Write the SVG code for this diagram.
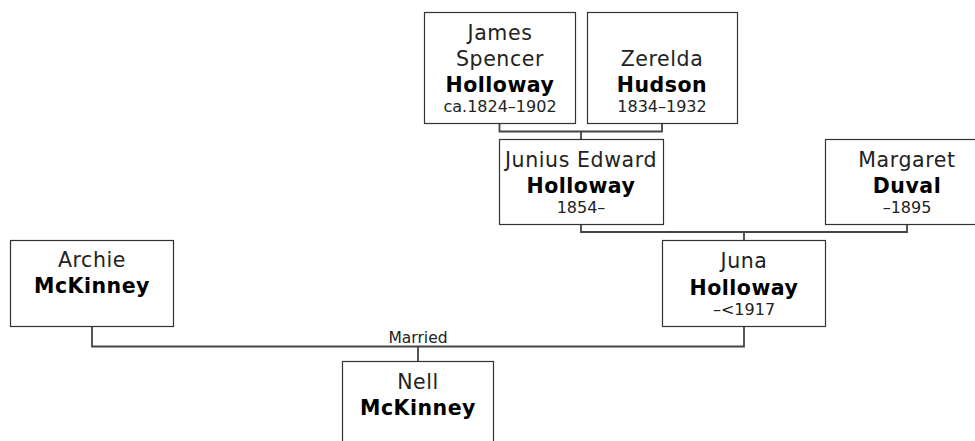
<svg xmlns="http://www.w3.org/2000/svg" width="975" height="441" viewBox="0 0 975 441">
<style>
.box{fill:#fff;stroke:#333;stroke-width:1.2}
.ln{fill:none;stroke:#444;stroke-width:1.8}
text{font-family:"DejaVu Sans","Verdana",sans-serif;fill:#111;text-anchor:middle}
.n{font-size:20.5px;letter-spacing:0.6px;fill:#222}
.b{font-size:20.5px;letter-spacing:0.5px;font-weight:bold;fill:#000}
.d{font-size:16px;fill:#222}
.lbl{font-size:15.5px;fill:#222}
</style>
<rect width="975" height="441" fill="#fff"/>
<g id="connectors">
<path class="ln" d="M499.5,123 V131.5 H662 V123 M581,131.5 V139"/>
<path class="ln" d="M581,224 V232 H907 V224 M744,232 V240"/>
<path class="ln" d="M92,327 V346.5 H744 V326 M418,346.5 V361"/>
<text class="lbl" x="418" y="343">Married</text>
</g>
<g id="james">
<rect class="box" x="424.5" y="12.5" width="151" height="111"/>
<text class="n" x="500" y="40">James</text>
<text class="n" x="500" y="66">Spencer</text>
<text class="b" x="500" y="92">Holloway</text>
<text class="d" x="500" y="112">ca.1824–1902</text>
</g>
<g id="zerelda">
<rect class="box" x="587.5" y="12.5" width="150" height="111"/>
<text class="n" x="662" y="66">Zerelda</text>
<text class="b" x="662" y="92">Hudson</text>
<text class="d" x="662" y="112">1834–1932</text>
</g>
<g id="junius">
<rect class="box" x="499.5" y="139.5" width="164" height="85"/>
<text class="n" x="581" y="167">Junius Edward</text>
<text class="b" x="581" y="193">Holloway</text>
<text class="d" x="581" y="213">1854–</text>
</g>
<g id="margaret">
<rect class="box" x="825.5" y="139.5" width="164" height="85"/>
<text class="n" x="907" y="167">Margaret</text>
<text class="b" x="907" y="193">Duval</text>
<text class="d" x="907" y="213">–1895</text>
</g>
<g id="juna">
<rect class="box" x="662.5" y="240.5" width="163" height="86"/>
<text class="n" x="744" y="268">Juna</text>
<text class="b" x="744" y="295">Holloway</text>
<text class="d" x="744" y="315">–&lt;1917</text>
</g>
<g id="archie">
<rect class="box" x="10.5" y="240.5" width="163" height="86"/>
<text class="n" x="92" y="267">Archie</text>
<text class="b" x="92" y="293">McKinney</text>
</g>
<g id="nell">
<rect class="box" x="342.5" y="361.5" width="151" height="100"/>
<text class="n" x="418" y="389">Nell</text>
<text class="b" x="418" y="415">McKinney</text>
</g>
</svg>
